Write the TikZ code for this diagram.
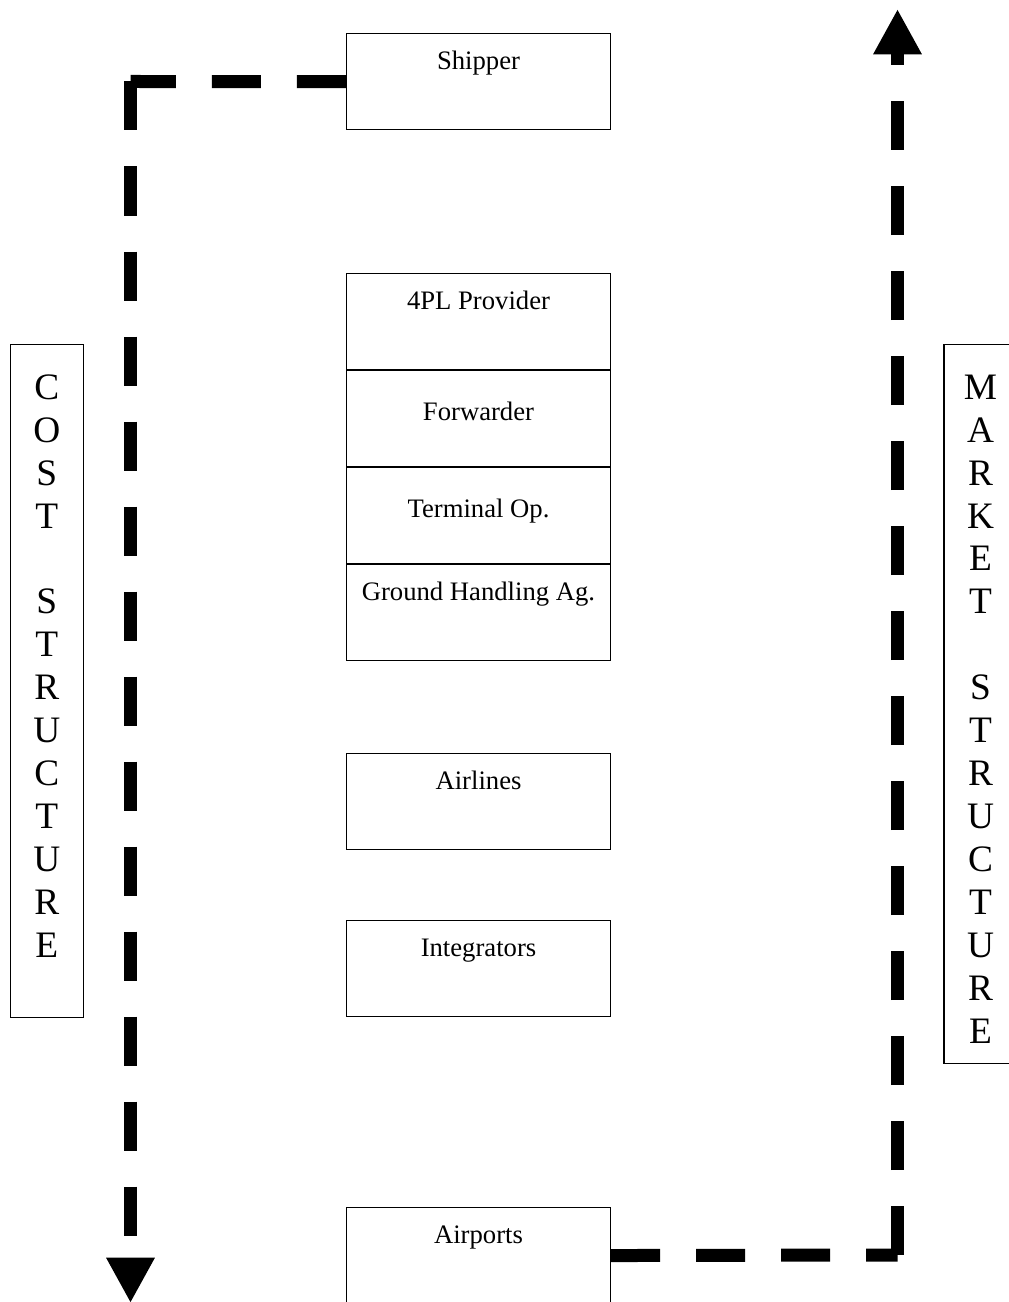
\documentclass[tikz,border=0pt]{standalone}
\usepackage{fontspec}
\setmainfont{Liberation Serif}
\usepackage{tikz}
\usetikzlibrary{arrows.meta, positioning}

\tikzset{
  unit/.style={draw, line width=0.8pt, minimum width=198pt, inner sep=0pt,
    text height=27pt, text depth=45pt, font=\fontsize{20}{24}\selectfont},
  lowunit/.style={unit, text height=38pt, text depth=34pt},
  sidebox/.style={draw, line width=0.8pt, minimum width=54.75pt, inner sep=0pt,
    font=\fontsize{28}{32.2}\selectfont},
  flow/.style={line width=9.75pt, dash pattern=on 36.75pt off 27pt},
  flowtip/.style={flow, -{Triangle[length=34pt, width=34pt]}}
}

\begin{document}
\begin{tikzpicture}[x=0.75pt, y=-0.75pt]
\useasboundingbox (0,0) rectangle (1008,1302);
% Actors
\node[unit, anchor=north] (shipper) at (478.5,33) {Shipper};
\node[unit, anchor=north] (fourpl) at (478.5,272.5) {4PL Provider};
\node[lowunit, below=0pt of fourpl] (forwarder) {Forwarder};
\node[lowunit, below=0pt of forwarder] (terminal) {Terminal Op.};
\node[unit, below=0pt of terminal] (handling) {Ground Handling Ag.};
\node[unit, anchor=north] (airlines) at (478.5,753) {Airlines};
\node[unit, anchor=north] (integrators) at (478.5,920) {Integrators};
\node[unit, anchor=north] (airports) at (478.5,1207) {Airports};
% Side labels
\node[sidebox, anchor=north, text height=41pt, text depth=463.75pt] (cost) at (46.75,344)
  {\begin{tabular}[t]{@{}c@{}}C\\O\\S\\T\\ \\S\\T\\R\\U\\C\\T\\U\\R\\E\end{tabular}};
\node[sidebox, anchor=north, text height=41pt, text depth=498.25pt] (market) at (980.5,344)
  {\begin{tabular}[t]{@{}c@{}}M\\A\\R\\K\\E\\T\\ \\S\\T\\R\\U\\C\\T\\U\\R\\E\end{tabular}};
% Dashed flows
\coordinate (costcorner) at (130.5,81.5);
\coordinate (costend) at (130.5,1303);
\coordinate (marketcorner) at (897.5,1255);
\coordinate (marketend) at (897.5,9);
\draw[flow] (shipper.west) -- (costcorner);
\draw[flowtip] (costcorner) -- (costend);
\draw[flow] (airports.east) -- (marketcorner);
\draw[flowtip] (marketcorner) -- (marketend);
\end{tikzpicture}
\end{document}
